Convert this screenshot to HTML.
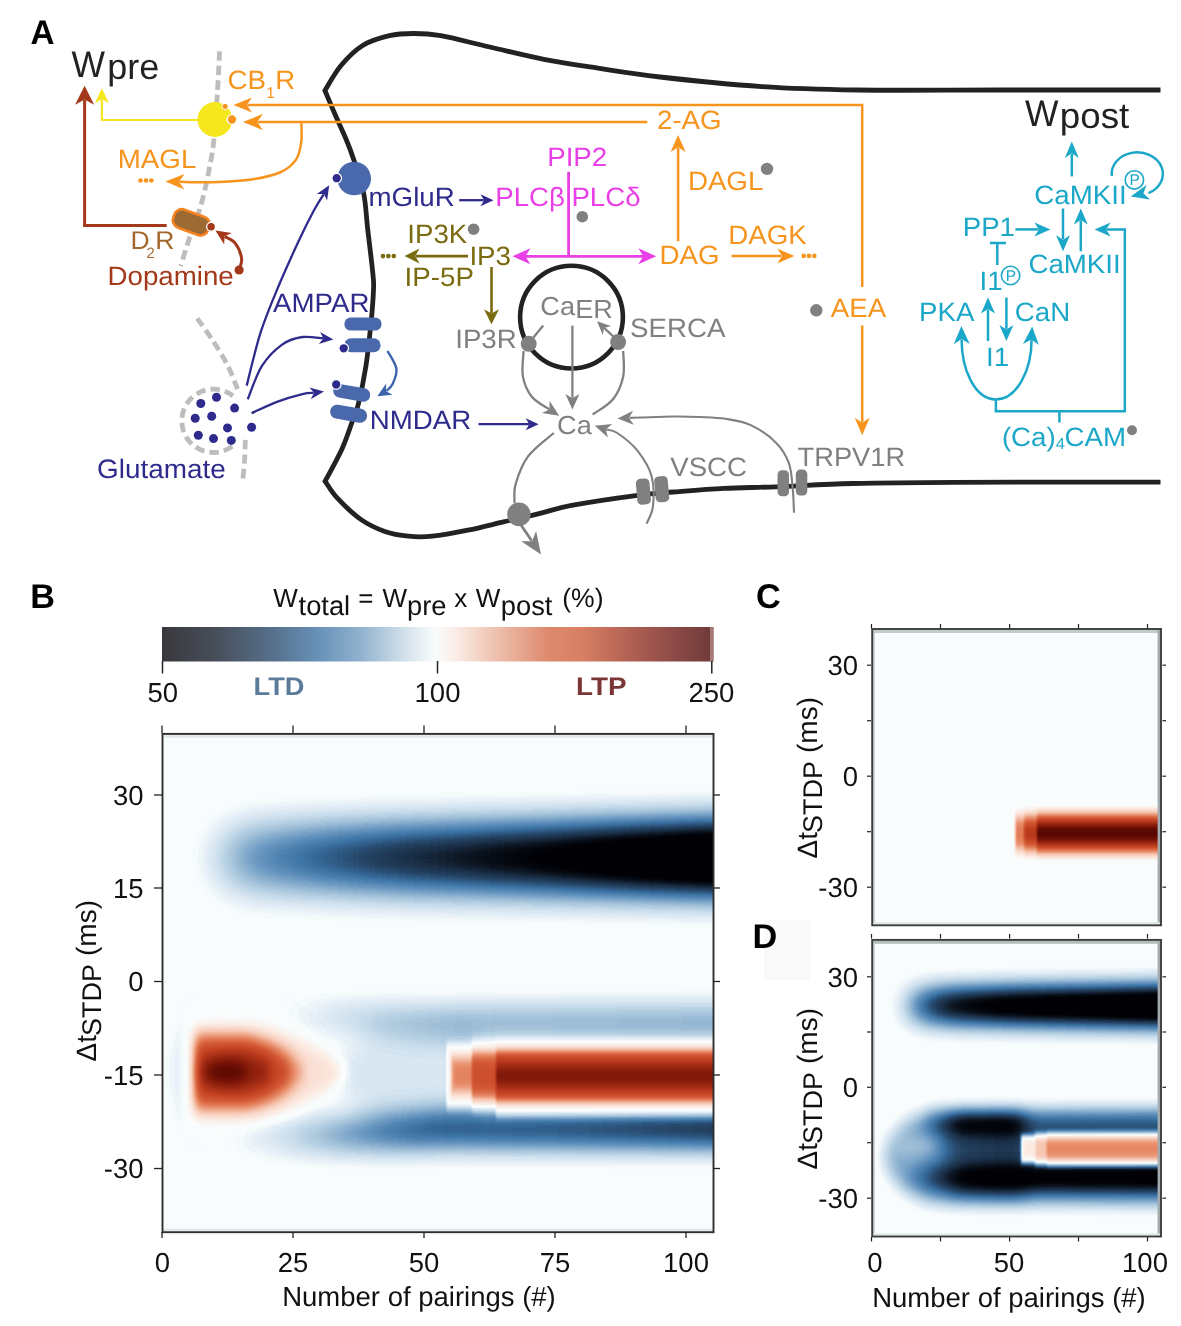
<!DOCTYPE html>
<html lang="en">
<head>
<meta charset="utf-8">
<title>Figure: STDP signalling model and plasticity maps</title>
<style>
html,body{margin:0;padding:0;background:#ffffff;}
body{width:1181px;height:1326px;overflow:hidden;}
svg{display:block;will-change:transform;transform:translateZ(0);}
text{font-family:"Liberation Sans","DejaVu Sans",sans-serif;text-rendering:geometricPrecision;}
.lbl{font-weight:bold;font-size:34.3px;fill:#000;}
.tk{font-size:27.5px;fill:#111;}
.ax{stroke:#333;stroke-width:1.6;fill:none;}
</style>
</head>
<body>
<svg width="1181" height="1326" viewBox="0 0 1181 1326">
<rect x="0" y="0" width="1181" height="1326" fill="#ffffff"/>
<defs>
<filter id="cmap" filterUnits="userSpaceOnUse" x="100" y="600" width="1081" height="700" color-interpolation-filters="sRGB">
<feComponentTransfer>
<feFuncR type="table" tableValues=".000 .000 .000 .000 .000 .000 .000 .000 .000 .000 .000 .000 .000 .000 .000 .000 .000 .000 .000 .000 .000 .000 .000 .000 .000 .000 .000 .000 .000 .000 .000 .000 .000 .000 .000 .000 .000 .000 .000 .000 .000 .000 .000 .000 .000 .000 .000 .000 .000 .000 .000 .000 .000 .000 .000 .000 .000 .000 .000 .001 .005 .009 .013 .017 .021 .028 .035 .042 .049 .056 .066 .075 .084 .093 .102 .108 .115 .121 .127 .133 .139 .147 .155 .163 .171 .180 .188 .196 .204 .215 .227 .238 .250 .266 .281 .296 .313 .333 .353 .372 .392 .412 .431 .455 .480 .504 .528 .552 .576 .600 .623 .644 .665 .686 .707 .728 .749 .770 .790 .810 .830 .849 .869 .889 .911 .937 .964 .976 .976 .976 .978 .980 .982 .984 .986 .988 .987 .985 .983 .981 .979 .977 .976 .974 .972 .970 .968 .966 .964 .961 .957 .954 .950 .946 .943 .939 .936 .932 .928 .925 .921 .918 .914 .911 .906 .901 .897 .892 .888 .883 .878 .874 .869 .865 .860 .855 .851 .846 .842 .837 .832 .828 .823 .818 .814 .809 .805 .800 .795 .791 .786 .782 .777 .772 .767 .761 .754 .747 .741 .734 .727 .721 .714 .707 .701 .694 .687 .681 .674 .667 .659 .651 .643 .635 .626 .618 .610 .602 .594 .585 .577 .569 .561 .553 .544 .536 .528 .519 .511 .502 .494 .485 .477 .468 .460 .452 .443 .435 .426 .418 .410 .403 .396 .389 .382 .375 .368 .361 .354 .347 .340 .334 .327 .320 .313 .306"/>
<feFuncG type="table" tableValues=".000 .000 .000 .000 .000 .000 .000 .000 .000 .000 .000 .000 .000 .000 .000 .000 .000 .000 .000 .000 .000 .000 .000 .000 .000 .000 .000 .000 .000 .000 .000 .000 .000 .000 .000 .000 .000 .000 .000 .000 .000 .000 .000 .000 .000 .000 .000 .000 .000 .000 .000 .000 .000 .000 .000 .000 .000 .000 .000 .002 .009 .016 .023 .030 .038 .050 .061 .073 .084 .097 .114 .130 .147 .164 .181 .193 .206 .218 .230 .243 .255 .271 .288 .305 .323 .340 .358 .375 .393 .411 .430 .448 .465 .478 .490 .502 .516 .531 .546 .562 .577 .592 .608 .625 .643 .660 .678 .695 .712 .730 .747 .762 .777 .793 .808 .823 .839 .854 .868 .881 .894 .907 .920 .932 .947 .965 .983 .992 .992 .992 .982 .971 .960 .949 .938 .927 .916 .905 .894 .883 .872 .861 .850 .839 .827 .816 .805 .794 .783 .767 .752 .737 .721 .706 .691 .675 .660 .644 .629 .614 .598 .583 .567 .552 .539 .527 .515 .502 .490 .478 .465 .453 .441 .428 .416 .404 .392 .379 .367 .358 .352 .345 .339 .333 .327 .321 .315 .308 .302 .296 .290 .284 .278 .272 .266 .261 .255 .250 .245 .240 .235 .230 .225 .220 .214 .209 .204 .199 .194 .189 .184 .179 .175 .170 .166 .161 .156 .152 .147 .143 .138 .133 .129 .124 .119 .115 .111 .107 .103 .099 .095 .091 .086 .082 .078 .074 .070 .066 .062 .058 .054 .052 .050 .047 .045 .043 .040 .038 .036 .033 .031 .029 .027 .024 .022 .020"/>
<feFuncB type="table" tableValues=".020 .020 .020 .020 .020 .020 .020 .020 .020 .020 .020 .020 .020 .020 .020 .020 .020 .020 .020 .020 .020 .020 .020 .020 .020 .020 .020 .020 .020 .020 .020 .020 .020 .020 .020 .020 .020 .020 .020 .020 .020 .020 .020 .020 .020 .020 .020 .020 .020 .020 .020 .020 .020 .020 .020 .020 .020 .020 .020 .023 .031 .039 .048 .056 .067 .084 .101 .118 .135 .153 .176 .200 .224 .248 .271 .289 .307 .325 .343 .361 .379 .401 .426 .450 .475 .499 .524 .549 .573 .594 .614 .635 .653 .663 .674 .684 .695 .706 .718 .730 .741 .753 .765 .775 .785 .795 .806 .816 .826 .836 .847 .856 .866 .876 .886 .895 .905 .915 .923 .931 .939 .947 .955 .963 .971 .980 .988 .992 .992 .992 .977 .961 .945 .929 .913 .897 .882 .867 .852 .837 .823 .808 .793 .778 .763 .749 .734 .719 .704 .684 .665 .645 .626 .607 .587 .568 .548 .529 .509 .490 .470 .451 .431 .412 .398 .386 .373 .361 .349 .336 .324 .312 .300 .287 .275 .263 .250 .238 .226 .217 .212 .207 .202 .197 .191 .186 .181 .176 .171 .166 .161 .156 .150 .145 .140 .137 .133 .130 .126 .123 .119 .115 .112 .108 .105 .101 .097 .094 .090 .087 .084 .081 .079 .076 .074 .071 .069 .066 .063 .061 .058 .056 .053 .051 .048 .046 .044 .042 .040 .038 .036 .034 .031 .029 .027 .025 .023 .021 .019 .017 .015 .014 .013 .012 .011 .010 .009 .008 .007 .006 .005 .004 .003 .002 .001 .000"/>
</feComponentTransfer>
</filter>
<filter id="bBtop" x="-10%" y="-10%" width="120%" height="120%" color-interpolation-filters="sRGB"><feGaussianBlur stdDeviation="16 19.5"/></filter>
<filter id="bBcore" x="-10%" y="-10%" width="120%" height="120%" color-interpolation-filters="sRGB"><feGaussianBlur stdDeviation="14 7"/></filter>
<filter id="bBband" x="-10%" y="-10%" width="120%" height="120%" color-interpolation-filters="sRGB"><feGaussianBlur stdDeviation="10 14"/></filter>
<filter id="bB" x="-10%" y="-10%" width="120%" height="120%" color-interpolation-filters="sRGB"><feGaussianBlur stdDeviation="5 9"/></filter>
<filter id="bBbar" x="-10%" y="-10%" width="120%" height="120%" color-interpolation-filters="sRGB"><feGaussianBlur stdDeviation="0.9 4.5"/></filter>
<filter id="bC" x="-10%" y="-10%" width="120%" height="120%" color-interpolation-filters="sRGB"><feGaussianBlur stdDeviation="0.8 5"/></filter>
<filter id="bDtop" x="-10%" y="-10%" width="120%" height="120%" color-interpolation-filters="sRGB"><feGaussianBlur stdDeviation="10 12"/></filter>
<filter id="bD" x="-10%" y="-10%" width="120%" height="120%" color-interpolation-filters="sRGB"><feGaussianBlur stdDeviation="7 8.7"/></filter>
<filter id="bDcore" x="-10%" y="-10%" width="120%" height="120%" color-interpolation-filters="sRGB"><feGaussianBlur stdDeviation="7 5"/></filter>
<filter id="bDbar" x="-10%" y="-10%" width="120%" height="120%" color-interpolation-filters="sRGB"><feGaussianBlur stdDeviation="0.8 2.6"/></filter>
<clipPath id="clipB"><rect x="163" y="734" width="550" height="497"/></clipPath>
<clipPath id="clipBt"><rect x="163" y="734" width="550" height="216"/></clipPath>
<clipPath id="clipBb"><rect x="163" y="950" width="550" height="281"/></clipPath>
<clipPath id="clipC"><rect x="873" y="630" width="287" height="294.5"/></clipPath>
<clipPath id="clipD"><rect x="873" y="940.5" width="287" height="295.3"/></clipPath>
<clipPath id="clipDt"><rect x="873" y="940" width="287" height="120"/></clipPath>
<clipPath id="clipDb"><rect x="873" y="1060" width="287" height="176"/></clipPath>
<linearGradient id="cbar" x1="0" y1="0" x2="1" y2="0">
<stop offset="0" stop-color="#38383c"/>
<stop offset="0.10" stop-color="#484f5b"/>
<stop offset="0.20" stop-color="#56708c"/>
<stop offset="0.28" stop-color="#6690b6"/>
<stop offset="0.36" stop-color="#90b2cf"/>
<stop offset="0.44" stop-color="#d2e1eb"/>
<stop offset="0.495" stop-color="#f8fcfc"/>
<stop offset="0.53" stop-color="#fbeee8"/>
<stop offset="0.60" stop-color="#efc4b2"/>
<stop offset="0.70" stop-color="#de8a6e"/>
<stop offset="0.76" stop-color="#d87f64"/>
<stop offset="0.85" stop-color="#b06052"/>
<stop offset="0.93" stop-color="#8c4a46"/>
<stop offset="1" stop-color="#6e3a3a"/>
</linearGradient>
</defs>
<!-- ================= PANEL A ================= -->
<g id="panelA">
<text class="lbl" x="30.6" y="44.3" textLength="24" lengthAdjust="spacingAndGlyphs">A</text>
<g fill="none" stroke="#bdbdbd" stroke-width="4.8" stroke-dasharray="9.5 5">
<path d="M219.5 51.4 C219.2 58 218.5 75.8 217.5 90.8 C216.5 105.8 215.2 128.1 213.7 141.6 C212.2 155.1 210.7 161.4 208.6 172 C206.5 182.6 204.2 194 201 205 C197.8 216 192.9 227.8 189.5 238 C186.1 248.2 182.1 261.3 180.6 266"/>
<path d="M197.2 318.3 C199.7 321.9 207.3 332.1 212.4 339.9 C217.5 347.7 223.4 357.1 227.6 365.3 C231.8 373.5 235.9 385.1 237.6 389"/>
<path d="M233 395.8 A31.7 31.7 0 1 0 233 445.8"/>
<path d="M245.3 439.9 C245.2 443.2 245 453.1 244.6 460 C244.2 466.9 243 477.5 242.7 481"/>
</g>
<path d="M1160.5 90 C1133.8 90 1050.6 90 1000 90 C949.4 90 896.7 90.6 857 90 C817.3 89.4 794.8 88.8 762 86.6 C729.2 84.4 687.3 80.1 660 77 C632.7 73.9 617.4 71.2 598 68.2 C578.6 65.2 561.9 62.8 543.9 59.3 C525.9 55.8 506.9 50.9 489.7 47 C472.5 43.1 453.5 38 440.9 35.7 C428.2 33.5 422.4 33.5 413.8 33.5 C405.2 33.5 398 33.7 389.4 35.7 C380.8 37.7 370.4 40.7 362.3 45.7 C354.2 50.8 346.8 58.5 340.6 66 C334.4 73.5 327.5 86.4 324.9 90.5 L324.9 90.5 C326.6 94.5 331.7 106.7 335.2 114.8 C338.7 122.9 342.8 131.3 346 139 C349.2 146.7 351.2 151.8 354.2 160.9 C357.1 170 361.4 181.9 363.7 193.4 C366 204.9 366.2 216.4 367.8 230 C369.4 243.6 372.1 265 373 275 C373.9 285 373.8 282 373.5 290 C373.2 298 372.3 310.3 371 323 C369.7 335.7 368 352.6 365.9 366.2 C363.8 379.8 360.5 395.3 358.3 404.3 C356.1 413.3 355.5 412.6 352.8 420 C350.1 427.4 346.8 438.2 342.2 448.4 C337.6 458.6 328 475.7 325.1 481.2 L325.1 481.2 C327.2 484 331.4 491.8 337.4 498.2 C343.4 504.6 353.2 514.1 361.1 519.6 C369 525.1 376.9 528.6 384.8 531.4 C392.7 534.2 400.6 535.4 408.5 536.2 C416.4 537 422.3 537.2 432.2 536.2 C442.1 535.2 455.9 532.6 467.8 530.2 C479.7 527.8 491.5 524.7 503.4 521.9 C515.3 519.1 527.6 516.4 539 513.6 C550.4 510.9 555.2 508.4 571.6 505.4 C588 502.3 620.7 497.5 637.6 495.3 C654.5 493.1 658.8 493.1 673.2 492 C687.6 490.9 706.8 489.3 724 488.4 C741.2 487.5 754.8 487.6 776.2 486.8 C797.6 486 822.8 484.2 852.4 483.5 C882 482.8 902.6 482.5 954 482.3 C1005.4 482.1 1126.1 482.2 1160.5 482.2" fill="none" stroke="#222222" stroke-width="4.8" stroke-linejoin="miter"/>
<text x="71.5" y="76.6" font-size="37" fill="#222222" textLength="33.5" lengthAdjust="spacingAndGlyphs">W</text>
<text x="107.2" y="79.4" font-size="36" fill="#222222" textLength="52" lengthAdjust="spacingAndGlyphs">pre</text>
<polyline points="166.7,225.6 84.6,225.6 84.6,100" fill="none" stroke="#a3381a" stroke-width="3" stroke-linejoin="miter"/>
<polygon points="84.6,85.7 94.1,104.7 84.6,99.4 75.1,104.7" fill="#a3381a"/>
<polyline points="199,120 101.9,120 101.9,99.5" fill="none" stroke="#f5e61d" stroke-width="2.2" stroke-linejoin="miter"/>
<polygon points="101.9,88.3 108.9,103.3 101.9,99.1 94.9,103.3" fill="#f5e61d"/>
<polyline points="862.2,287 862.2,105 247.4,105" fill="none" stroke="#f7941d" stroke-width="2.5" stroke-linejoin="miter"/>
<polygon points="233.5,105 252,97.4 246.8,105 252,112.6" fill="#f7941d"/>
<polyline points="647.3,122 257.9,122" fill="none" stroke="#f7941d" stroke-width="2.5" stroke-linejoin="miter"/>
<polygon points="242.9,122 262.9,113.8 257.3,122 262.9,130.2" fill="#f7941d"/>
<path d="M301.3 121.6 C301.3 124.9 302.2 135.3 301.3 141.6 C300.4 147.9 299.6 154.3 296.2 159.4 C292.8 164.5 288.2 168.7 281 172 C273.8 175.3 264.4 177.5 253 179.2 C241.6 180.9 224.6 181.8 212.4 182.2 C200.2 182.6 185.1 181.8 179.6 181.7" fill="none" stroke="#f7941d" stroke-width="2.5"/>
<polygon points="165.4,181.5 184.5,174 179.1,181.7 184.3,189.6" fill="#f7941d"/>
<circle cx="214.9" cy="119.5" r="17.4" fill="#f5e61d"/>
<circle cx="225.1" cy="106.5" r="3.1" fill="#f7941d" stroke="#fff" stroke-width="1"/>
<circle cx="232" cy="119.5" r="4.8" fill="#f7941d" stroke="#fff" stroke-width="1.3"/>
<text x="227.6" y="88.8" font-size="26.5" fill="#f7941d" textLength="38.5" lengthAdjust="spacingAndGlyphs">CB</text>
<text x="266.3" y="98" font-size="15.5" fill="#f7941d" textLength="8.6" lengthAdjust="spacingAndGlyphs">1</text>
<text x="275.2" y="88.8" font-size="26.5" fill="#f7941d" textLength="20" lengthAdjust="spacingAndGlyphs">R</text>
<text x="117.8" y="168.3" font-size="26.5" fill="#f7941d" textLength="78.5" lengthAdjust="spacingAndGlyphs">MAGL</text>
<circle cx="140.5" cy="180.5" r="2.3" fill="#f7941d"/>
<circle cx="146" cy="180.5" r="2.3" fill="#f7941d"/>
<circle cx="151.4" cy="180.5" r="2.3" fill="#f7941d"/>
<rect x="-18.6" y="-9.6" width="37.2" height="19.2" rx="8" transform="translate(191.3,222.3) rotate(20)" fill="#9c6a32" stroke="#f58220" stroke-width="2.6"/>
<circle cx="211.1" cy="226.8" r="4.4" fill="#a3381a" stroke="#fff" stroke-width="1.3"/>
<text x="130.5" y="248.9" font-size="25.5" fill="#a3672e" textLength="19.2" lengthAdjust="spacingAndGlyphs">D</text>
<text x="146.6" y="258" font-size="15" fill="#a3672e" textLength="8.3" lengthAdjust="spacingAndGlyphs">2</text>
<text x="155.3" y="248.9" font-size="25.5" fill="#a3672e" textLength="19.2" lengthAdjust="spacingAndGlyphs">R</text>
<text x="107.5" y="285.3" font-size="26.5" fill="#a3381a" textLength="126.2" lengthAdjust="spacingAndGlyphs">Dopamine</text>
<circle cx="239.1" cy="270" r="4.6" fill="#a3381a"/>
<path d="M239.1 270 C239.5 268.1 242.2 263.1 241.6 258.6 C241 254.2 238.1 246.9 235.3 243.3 C232.5 239.7 226.6 237.8 224.8 236.7" fill="none" stroke="#a3381a" stroke-width="3"/>
<polygon points="215.4,230.6 231.8,232.9 224.5,236.5 224.2,244.6" fill="#a3381a"/>
<path d="M246.7 385.6 C249 376.7 255.4 348.7 260.7 332.2 C266 315.7 272 301.7 278.4 286.5 C284.8 271.3 292.9 253.5 298.8 240.8 C304.7 228.1 309.8 218.1 314 210.3 C318.2 202.5 322.1 196.9 323.7 194.3" fill="none" stroke="#2e2b8c" stroke-width="2.3"/>
<polygon points="329.2,185.3 327.1,200.4 324,193.9 316.8,194.1" fill="#2e2b8c"/>
<path d="M247.8 399.2 C250.1 393.7 256.1 375.3 261.8 366.2 C267.5 357.1 275.3 349.5 282.1 344.6 C288.9 339.7 295.6 338 302.4 337 C309.2 336 319.5 338.2 323 338.4" fill="none" stroke="#2e2b8c" stroke-width="2.3"/>
<polygon points="333.4,339.5 318.8,344 323.4,338.4 320.1,332.1" fill="#2e2b8c"/>
<path d="M251.6 413.2 C255.8 411.3 268.5 405 277 401.8 C285.5 398.6 296.3 395.6 302.4 394.1 C308.5 392.6 311.7 393.1 313.6 392.9" fill="none" stroke="#2e2b8c" stroke-width="2.3"/>
<polygon points="324,391.6 310.8,399.3 314,392.8 309.4,387.4" fill="#2e2b8c"/>
<line x1="459.2" y1="200.2" x2="483.8" y2="200.2" stroke="#2e2b8c" stroke-width="2.3"/>
<polygon points="493.5,200.2 480.5,206.2 484.1,200.2 480.5,194.2" fill="#2e2b8c"/>
<line x1="478.5" y1="424.2" x2="529" y2="424.2" stroke="#2e2b8c" stroke-width="2.3"/>
<polygon points="538.7,424.2 525.7,430.2 529.3,424.2 525.7,418.2" fill="#2e2b8c"/>
<circle cx="354.2" cy="178.5" r="16.8" fill="#4a69ad"/>
<circle cx="336.7" cy="178.2" r="4.8" fill="#2e2b8c" stroke="#fff" stroke-width="1.3"/>
<text x="368.5" y="205.5" font-size="26.5" fill="#2e2b8c" textLength="86.2" lengthAdjust="spacingAndGlyphs">mGluR</text>
<text x="273" y="311.7" font-size="26.5" fill="#2e2b8c" textLength="96.4" lengthAdjust="spacingAndGlyphs">AMPAR</text>
<text x="369.8" y="429.4" font-size="26.5" fill="#2e2b8c" textLength="101.5" lengthAdjust="spacingAndGlyphs">NMDAR</text>
<text x="97" y="477.5" font-size="26.7" fill="#2e2b8c" textLength="128.7" lengthAdjust="spacingAndGlyphs">Glutamate</text>
<rect x="344.3" y="317.4" width="37.3" height="13.2" rx="6.6" fill="#4a69ad"/>
<rect x="344.3" y="338.3" width="36.3" height="13.9" rx="6.9" fill="#4a69ad"/>
<circle cx="343.7" cy="348.3" r="4.8" fill="#2e2b8c" stroke="#fff" stroke-width="1.3"/>
<rect x="-18.7" y="-6.8" width="37.4" height="13.6" rx="6.8" transform="translate(351.7,392.9) rotate(10)" fill="#4a69ad"/>
<rect x="-18.7" y="-7" width="37.4" height="14" rx="7" transform="translate(348.6,413.7) rotate(10)" fill="#4a69ad"/>
<circle cx="336.2" cy="384.5" r="4.8" fill="#2e2b8c" stroke="#fff" stroke-width="1.3"/>
<path d="M387.5 351 C389 353.9 395.5 363.2 396.4 368.7 C397.2 374.2 394.3 380.3 392.6 384 C390.9 387.7 387.4 389.8 386.4 390.9" fill="none" stroke="#3d63ad" stroke-width="2.4"/>
<polygon points="377.3,396.2 386.2,383.6 386,391.2 392.7,394.8" fill="#3d63ad"/>
<circle cx="216.5" cy="397.2" r="4.5" fill="#2e2b8c"/>
<circle cx="200.8" cy="403.5" r="4.5" fill="#2e2b8c"/>
<circle cx="234.6" cy="408.1" r="4.5" fill="#2e2b8c"/>
<circle cx="195.2" cy="418.3" r="4.5" fill="#2e2b8c"/>
<circle cx="211.7" cy="416.2" r="4.5" fill="#2e2b8c"/>
<circle cx="227.5" cy="427.9" r="4.5" fill="#2e2b8c"/>
<circle cx="198.3" cy="435.3" r="4.5" fill="#2e2b8c"/>
<circle cx="213.5" cy="438.6" r="4.5" fill="#2e2b8c"/>
<circle cx="231.3" cy="440.4" r="4.5" fill="#2e2b8c"/>
<circle cx="251.6" cy="427.2" r="4.5" fill="#2e2b8c"/>
<text x="547.2" y="165.6" font-size="26.5" fill="#e93fe6" textLength="60" lengthAdjust="spacingAndGlyphs">PIP2</text>
<text x="495.2" y="205.5" font-size="26.5" fill="#e93fe6" textLength="69.8" lengthAdjust="spacingAndGlyphs">PLCβ</text>
<text x="571.4" y="205.5" font-size="26.5" fill="#e93fe6" textLength="69.3" lengthAdjust="spacingAndGlyphs">PLCδ</text>
<line x1="568.6" y1="171.8" x2="568.6" y2="256.3" stroke="#e93fe6" stroke-width="2.8"/>
<line x1="524" y1="256.3" x2="645" y2="256.3" stroke="#e93fe6" stroke-width="2.8"/>
<polygon points="512.4,256.3 530.4,248.3 525.4,256.3 530.4,264.3" fill="#e93fe6"/>
<polygon points="656.3,256.3 638.3,264.3 643.3,256.3 638.3,248.3" fill="#e93fe6"/>
<circle cx="582.3" cy="216.7" r="5.8" fill="#808080"/>
<circle cx="473.6" cy="229.2" r="5.8" fill="#808080"/>
<circle cx="767" cy="168.9" r="6.2" fill="#808080"/>
<circle cx="816.3" cy="310.3" r="6.2" fill="#808080"/>
<circle cx="1132" cy="430.3" r="5" fill="#808080"/>
<text x="407.3" y="242.9" font-size="26.5" fill="#7a6a10" textLength="60" lengthAdjust="spacingAndGlyphs">IP3K</text>
<text x="469.4" y="264.5" font-size="26.5" fill="#7a6a10" textLength="41.6" lengthAdjust="spacingAndGlyphs">IP3</text>
<text x="404.6" y="286" font-size="26.5" fill="#7a6a10" textLength="69.3" lengthAdjust="spacingAndGlyphs">IP-5P</text>
<line x1="468" y1="256.1" x2="415.8" y2="256.1" stroke="#7a6a10" stroke-width="2.6"/>
<polygon points="404.5,256.1 419.5,248.6 415.3,256.1 419.5,263.6" fill="#7a6a10"/>
<circle cx="383" cy="256.1" r="2.3" fill="#7a6a10"/>
<circle cx="388.4" cy="256.1" r="2.3" fill="#7a6a10"/>
<circle cx="393.8" cy="256.1" r="2.3" fill="#7a6a10"/>
<line x1="491.5" y1="267" x2="491.5" y2="313.1" stroke="#7a6a10" stroke-width="2.6"/>
<polygon points="491.5,324.3 484,309.3 491.5,313.5 499,309.3" fill="#7a6a10"/>
<circle cx="571.5" cy="317.1" r="51.4" fill="none" stroke="#222222" stroke-width="4.6"/>
<text x="540.3" y="314.8" font-size="26" fill="#808080" textLength="34.7" lengthAdjust="spacingAndGlyphs">Ca</text>
<text x="575.2" y="317.8" font-size="26" fill="#808080" textLength="37.7" lengthAdjust="spacingAndGlyphs">ER</text>
<text x="455.2" y="347.9" font-size="26.5" fill="#808080" textLength="61.6" lengthAdjust="spacingAndGlyphs">IP3R</text>
<text x="630" y="337" font-size="26.5" fill="#808080" textLength="95.4" lengthAdjust="spacingAndGlyphs">SERCA</text>
<g fill="none" stroke="#808080" stroke-width="2.3">
<line x1="531.8" y1="339.5" x2="543.2" y2="325.6"/>
<path d="M592.7 414.5 C596.1 411.9 607.9 405.6 613 399.2 C618.1 392.8 621.5 384.4 623.2 376.4 C624.9 368.4 623.2 355.2 623.2 351"/>
<path d="M553.8 433 C549.6 436.8 534.8 447.4 528.4 455.9 C522 464.4 518 475.9 515.7 483.8 C513.4 491.7 514.7 499.8 514.5 503"/>
</g>
<line x1="616" y1="339" x2="604.4" y2="328.2" stroke="#808080" stroke-width="2.3"/>
<polygon points="597,321.3 611,326.1 604.1,327.9 602.8,334.9" fill="#808080"/>
<line x1="572.4" y1="325.6" x2="572.4" y2="397.8" stroke="#808080" stroke-width="2.3"/>
<polygon points="572.4,409.4 565.4,393.9 572.4,398.2 579.4,393.9" fill="#808080"/>
<path d="M523.6 351 C523.5 355.2 521.5 368.8 522.9 376.4 C524.3 384 527.4 391.2 531.8 396.7 C536.2 402.2 546.2 407.1 549.1 409.2" fill="none" stroke="#808080" stroke-width="2.3"/>
<polygon points="559.2,415.7 542,412.9 549.5,409.4 549.6,401.1" fill="#808080"/>
<circle cx="528.7" cy="343.8" r="8" fill="#808080"/>
<circle cx="618.1" cy="342.1" r="8" fill="#808080"/>
<text x="557.1" y="434.3" font-size="26" fill="#808080" textLength="34.7" lengthAdjust="spacingAndGlyphs">Ca</text>
<path d="M794 512.7 C793.8 508.7 793.6 496.9 792.7 488.6 C791.9 480.4 791.6 470.8 788.9 463.2 C786.1 455.6 782.6 449.2 776.2 442.9 C769.9 436.5 759.3 429.1 750.8 425.1 C742.3 421.1 733.9 420.2 725.4 418.8 C716.9 417.4 708.7 417.4 700 417 C691.3 416.6 683.2 416.4 673.2 416.5 C663.2 416.6 647.3 417.3 640 417.5 C632.7 417.7 631.2 417.8 629.5 417.9" fill="none" stroke="#808080" stroke-width="2.1"/>
<polygon points="617.5,418.5 633.1,410.7 629,417.9 633.8,424.7" fill="#808080"/>
<path d="M646.5 523.7 C647.6 520.9 652 514.6 652.9 506.7 C653.8 498.8 654.1 485.5 651.6 476.2 C649.1 466.9 643.3 458 637.6 450.8 C631.9 443.6 622.5 436.5 617.3 433 C612.1 429.5 608.1 430.1 606.2 429.5" fill="none" stroke="#808080" stroke-width="2.1"/>
<polygon points="594.8,425.8 612.2,424.1 605.8,429.4 607.9,437.4" fill="#808080"/>
<circle cx="518.9" cy="514.4" r="11.8" fill="#808080"/>
<line x1="521" y1="525" x2="531.7" y2="540.8" stroke="#808080" stroke-width="2.8"/>
<polygon points="541,554.4 521.2,541.3 532.1,541.3 536.1,531.1" fill="#808080"/>
<rect x="-6.8" y="-13" width="13.6" height="26" rx="4.5" transform="translate(643.4,491.6) rotate(-5)" fill="#808080"/>
<rect x="-6.8" y="-13" width="13.6" height="26" rx="4.5" transform="translate(661.7,489.2) rotate(-5)" fill="#808080"/>
<text x="670.2" y="476.2" font-size="26.5" fill="#808080" textLength="76.9" lengthAdjust="spacingAndGlyphs">VSCC</text>
<rect x="777.5" y="470.2" width="11.5" height="26" rx="4.5" fill="#808080"/>
<rect x="795.8" y="469.6" width="11.5" height="26" rx="4.5" fill="#808080"/>
<text x="797.5" y="466.2" font-size="26.5" fill="#808080" textLength="107.7" lengthAdjust="spacingAndGlyphs">TRPV1R</text>
<text x="657" y="129.3" font-size="26.5" fill="#f7941d" textLength="64.6" lengthAdjust="spacingAndGlyphs">2-AG</text>
<line x1="678.1" y1="241.2" x2="678.1" y2="147.8" stroke="#f7941d" stroke-width="2.5"/>
<polygon points="678.1,135 685.6,152 678.1,147.2 670.6,152" fill="#f7941d"/>
<text x="687.9" y="189.5" font-size="26.5" fill="#f7941d" textLength="75.4" lengthAdjust="spacingAndGlyphs">DAGL</text>
<text x="728.2" y="244.1" font-size="26.5" fill="#f7941d" textLength="78.5" lengthAdjust="spacingAndGlyphs">DAGK</text>
<text x="659.5" y="263.7" font-size="26.5" fill="#f7941d" textLength="60" lengthAdjust="spacingAndGlyphs">DAG</text>
<line x1="731.4" y1="255.9" x2="781.5" y2="255.9" stroke="#f7941d" stroke-width="2.5"/>
<polygon points="794.3,255.9 777.3,263.4 782.1,255.9 777.3,248.4" fill="#f7941d"/>
<circle cx="803.7" cy="255.9" r="2.3" fill="#f7941d"/>
<circle cx="809" cy="255.9" r="2.3" fill="#f7941d"/>
<circle cx="814.3" cy="255.9" r="2.3" fill="#f7941d"/>
<text x="830.8" y="317.2" font-size="26.5" fill="#f7941d" textLength="55.4" lengthAdjust="spacingAndGlyphs">AEA</text>
<line x1="862.2" y1="325.5" x2="862.2" y2="422.2" stroke="#f7941d" stroke-width="2.5"/>
<polygon points="862.2,435.3 854.7,417.8 862.2,422.7 869.7,417.8" fill="#f7941d"/>
<text x="1025" y="125.6" font-size="37" fill="#222222" textLength="33.5" lengthAdjust="spacingAndGlyphs">W</text>
<text x="1059.8" y="128.2" font-size="36" fill="#222222" textLength="69.4" lengthAdjust="spacingAndGlyphs">post</text>
<line x1="1071.8" y1="176.4" x2="1071.8" y2="153.8" stroke="#1ba7c8" stroke-width="2.5"/>
<polygon points="1071.8,141.4 1078.8,157.9 1071.8,153.3 1064.8,157.9" fill="#1ba7c8"/>
<text x="1034.3" y="204.2" font-size="26.5" fill="#1ba7c8" textLength="92.3" lengthAdjust="spacingAndGlyphs">CaMKII</text>
<text x="1028.4" y="273" font-size="26.5" fill="#1ba7c8" textLength="92.3" lengthAdjust="spacingAndGlyphs">CaMKII</text>
<circle cx="1134.4" cy="179.9" r="9.2" fill="none" stroke="#1ba7c8" stroke-width="1.6"/>
<text x="1134.7" y="185.4" font-size="15.5" fill="#1ba7c8" text-anchor="middle">P</text>
<circle cx="1010.6" cy="275.5" r="9.2" fill="none" stroke="#1ba7c8" stroke-width="1.6"/>
<text x="1010.9" y="281" font-size="15.5" fill="#1ba7c8" text-anchor="middle">P</text>
<path d="M1111.8 176 A25.6 21.5 0 1 1 1148.5 193.2" fill="none" stroke="#1ba7c8" stroke-width="2.5"/>
<polygon points="1130.8,196.6 1146.5,185 1143.4,193.5 1150.1,199.5" fill="#1ba7c8"/>
<text x="962.7" y="235.8" font-size="26.5" fill="#1ba7c8" textLength="52.3" lengthAdjust="spacingAndGlyphs">PP1</text>
<line x1="1015.4" y1="229.4" x2="1038.4" y2="229.4" stroke="#1ba7c8" stroke-width="2.5"/>
<polygon points="1050.4,229.4 1034.4,236.4 1038.9,229.4 1034.4,222.4" fill="#1ba7c8"/>
<line x1="1063" y1="208.5" x2="1063" y2="239.3" stroke="#1ba7c8" stroke-width="2.5"/>
<polygon points="1063,251.3 1056,235.3 1063,239.8 1070,235.3" fill="#1ba7c8"/>
<line x1="1080.8" y1="251.3" x2="1080.8" y2="220.5" stroke="#1ba7c8" stroke-width="2.5"/>
<polygon points="1080.8,208.5 1087.8,224.5 1080.8,220 1073.8,224.5" fill="#1ba7c8"/>
<polyline points="995.9,399.4 995.9,411.3 1124.8,411.3 1124.8,229.4 1106.6,229.4" fill="none" stroke="#1ba7c8" stroke-width="2.5" stroke-linejoin="miter"/>
<polygon points="1094.6,229.4 1110.6,222.4 1106.1,229.4 1110.6,236.4" fill="#1ba7c8"/>
<path d="M997.3 243 L997.3 265 M990 243 L1006 243 M1059.4 411.3 L1059.4 422.5" fill="none" stroke="#1ba7c8" stroke-width="2.5"/>
<text x="979.6" y="290" font-size="26.5" fill="#1ba7c8" textLength="23.1" lengthAdjust="spacingAndGlyphs">I1</text>
<text x="919" y="320.8" font-size="26.5" fill="#1ba7c8" textLength="55.4" lengthAdjust="spacingAndGlyphs">PKA</text>
<text x="1014.8" y="320.8" font-size="26.5" fill="#1ba7c8" textLength="55.4" lengthAdjust="spacingAndGlyphs">CaN</text>
<line x1="988" y1="340.9" x2="988" y2="309.6" stroke="#1ba7c8" stroke-width="2.5"/>
<polygon points="988,297.6 995,313.6 988,309.1 981,313.6" fill="#1ba7c8"/>
<line x1="1006.4" y1="297.6" x2="1006.4" y2="328.9" stroke="#1ba7c8" stroke-width="2.5"/>
<polygon points="1006.4,340.9 999.4,324.9 1006.4,329.4 1013.4,324.9" fill="#1ba7c8"/>
<text x="986.1" y="366.1" font-size="26.5" fill="#1ba7c8" textLength="23.1" lengthAdjust="spacingAndGlyphs">I1</text>
<path d="M961.6 339.5 C961.6 370 975 399.4 995.9 399.4 C1017 399.4 1031.6 370 1031.6 339.5" fill="none" stroke="#1ba7c8" stroke-width="2.5"/>
<polygon points="961.4,326.1 969.7,344 961.6,339.1 953.7,344.2" fill="#1ba7c8"/>
<polygon points="1032.2,326.6 1038.9,345.1 1031.3,339.5 1023,344" fill="#1ba7c8"/>
<text x="1001.9" y="445.6" font-size="26.5" fill="#1ba7c8" textLength="53.8" lengthAdjust="spacingAndGlyphs">(Ca)</text>
<text x="1055.8" y="449" font-size="16" fill="#1ba7c8" textLength="9.3" lengthAdjust="spacingAndGlyphs">4</text>
<text x="1064.5" y="445.6" font-size="26.5" fill="#1ba7c8" textLength="61.5" lengthAdjust="spacingAndGlyphs">CAM</text>
</g>
<!-- ================= PANEL B ================= -->
<g id="panelB">
<text class="lbl" x="30.3" y="608">B</text>
<!-- title -->
<g fill="#111">
<text x="273.3" y="607.3" font-size="26">W</text>
<text x="298.6" y="614.8" font-size="27.3">total</text>
<text x="358.2" y="607.3" font-size="26">=</text>
<text x="382.4" y="607.3" font-size="26">W</text>
<text x="407" y="614.8" font-size="27.3">pre</text>
<text x="454.3" y="607.3" font-size="26">x</text>
<text x="475.8" y="607.3" font-size="26">W</text>
<text x="500.8" y="614.8" font-size="27.3">post</text>
<text x="562.3" y="607.3" font-size="26.5">(%)</text>
</g>
<!-- colour bar -->
<rect x="162" y="627" width="551.5" height="34.5" fill="url(#cbar)"/>
<rect x="710" y="627" width="3.5" height="34.5" fill="#b98f8f" opacity="0.75"/>
<g stroke="#222" stroke-width="1.5">
<line x1="162.5" y1="661" x2="162.5" y2="673.5"/>
<line x1="437.5" y1="661" x2="437.5" y2="673.5"/>
<line x1="711.8" y1="661" x2="711.8" y2="673.5"/>
</g>
<text class="tk" x="147.5" y="702">50</text>
<text class="tk" x="437.5" y="702" text-anchor="middle">100</text>
<text class="tk" x="688.5" y="702">250</text>
<text x="253.5" y="694.5" font-size="25.5" font-weight="bold" fill="#5b7b9b" textLength="51" lengthAdjust="spacingAndGlyphs">LTD</text>
<text x="576" y="695" font-size="25.5" font-weight="bold" fill="#7a3636" textLength="50.5" lengthAdjust="spacingAndGlyphs">LTP</text>

<!-- heat map -->
<g clip-path="url(#clipB)"><g filter="url(#cmap)">
<g clip-path="url(#clipBt)">
<g filter="url(#bBtop)">
<rect x="20" y="600" width="840" height="500" fill="#808080"/>
<linearGradient id="gB1" gradientUnits="userSpaceOnUse" x1="200" y1="0" x2="720" y2="0">
<stop offset="0.000" stop-color="#7b7b7b"/>
<stop offset="0.029" stop-color="#757575"/>
<stop offset="0.096" stop-color="#626262"/>
<stop offset="0.192" stop-color="#565656"/>
<stop offset="0.288" stop-color="#4c4c4c"/>
<stop offset="0.385" stop-color="#434343"/>
<stop offset="0.481" stop-color="#3d3d3d"/>
<stop offset="0.538" stop-color="#393939"/>
<stop offset="0.673" stop-color="#2f2f2f"/>
<stop offset="0.987" stop-color="#0f0f0f"/>
</linearGradient>
<path d="M860 829 L236 830 Q204 840 204 858 Q204 876 236 886 L860 887 Z" fill="url(#gB1)"/>
</g>
</g>
<g clip-path="url(#clipBb)">
<g filter="url(#bBband)">
<rect x="20" y="860" width="840" height="460" fill="#808080"/>
<!-- broad faint LTD region between the bands -->
<path d="M480 1030 L380 1030 Q340 1050 336 1073 Q340 1100 380 1118 L480 1118 Z" fill="#797979"/>
<!-- lower LTD band -->
<linearGradient id="gB2" gradientUnits="userSpaceOnUse" x1="215" y1="0" x2="720" y2="0">
<stop offset="0.000" stop-color="#7a7a7a"/>
<stop offset="0.129" stop-color="#6c6c6c"/>
<stop offset="0.267" stop-color="#5a5a5a"/>
<stop offset="0.426" stop-color="#484848"/>
<stop offset="0.703" stop-color="#424242"/>
<stop offset="0.986" stop-color="#373737"/>
</linearGradient>
<path d="M860 1116 L440 1116 Q330 1120 215 1142 Q340 1150 440 1143 L860 1142 Z" fill="url(#gB2)"/>
<!-- upper faint LTD band -->
<linearGradient id="gB3" gradientUnits="userSpaceOnUse" x1="265" y1="0" x2="720" y2="0">
<stop offset="0.000" stop-color="#7b7b7b"/>
<stop offset="0.165" stop-color="#6b6b6b"/>
<stop offset="0.429" stop-color="#626262"/>
<stop offset="0.985" stop-color="#5e5e5e"/>
</linearGradient>
<path d="M860 1012 L440 1012 Q340 1010 265 1012 Q330 1026 440 1034 L860 1034 Z" fill="url(#gB3)"/>
<!-- faint LTD wrap at left -->
<path d="M200 1012 Q160 1072 200 1134" fill="none" stroke="#787878" stroke-width="14"/>
</g>
<g filter="url(#bB)">
<!-- white halo + early LTP blob -->
<path d="M182 1004 L266 1002 L352 1072 L300 1110 L210 1138 L182 1138 Z" fill="#808080"/>
<path d="M193 1034 Q193 1028 200 1028 L250 1028 Q310 1036 346 1072 Q310 1108 250 1116 L200 1116 Q193 1116 193 1110 Z" fill="#8b8b8b"/>
<path d="M194 1038 Q194 1034 200 1034 L246 1034 Q292 1042 306 1072 Q292 1102 246 1110 L200 1110 Q194 1110 194 1106 Z" fill="#a2a2a2"/>
<path d="M196 1044 Q196 1040 202 1040 L244 1040 Q282 1048 292 1072 Q282 1096 244 1104 L202 1104 Q196 1104 196 1100 Z" fill="#c0c0c0"/>
<ellipse cx="234" cy="1072" rx="38" ry="18" fill="#e0e0e0"/>
<ellipse cx="226" cy="1072" rx="22" ry="9" fill="#ffffff"/>
</g>
<!-- late LTP bar -->
<g filter="url(#bBbar)">
<rect x="446.5" y="1044" width="26" height="63" fill="#838383"/>
<rect x="472" y="1040" width="25" height="70" fill="#838383"/>
<rect x="496" y="1039" width="240" height="76" fill="#838383"/>
<rect x="451" y="1056" width="21.5" height="38" fill="#9c9c9c"/>
<rect x="454" y="1064" width="18.5" height="22" fill="#a6a6a6"/>
<rect x="472" y="1052" width="24.5" height="47" fill="#acacac"/>
<rect x="472" y="1062" width="24.5" height="27" fill="#bababa"/>
<rect x="496" y="1051" width="240" height="50" fill="#bcbcbc"/>
<rect x="496" y="1060" width="240" height="32" fill="#d0d0d0"/>
<rect x="496" y="1068" width="240" height="16" fill="#e6e6e6"/>
</g>
</g>
</g></g>
<!-- frame -->
<path d="M163.5 736.3 H712.5" stroke="#e1e8ea" stroke-width="3" fill="none"/><path d="M163.5 1230 H712.5" stroke="#e1e8ea" stroke-width="2.6" fill="none"/>
<rect x="162.5" y="733.9" width="551" height="498.3" fill="none" stroke="#2e2e2e" stroke-width="1.9"/>
<g stroke="#222" stroke-width="1.3">
<!-- top ticks -->
<line x1="162" y1="733" x2="162" y2="725.5"/><line x1="293" y1="733" x2="293" y2="725.5"/><line x1="424" y1="733" x2="424" y2="725.5"/><line x1="555" y1="733" x2="555" y2="725.5"/><line x1="686" y1="733" x2="686" y2="725.5"/>
<!-- bottom ticks -->
<line x1="162" y1="1232" x2="162" y2="1238"/><line x1="293" y1="1232" x2="293" y2="1238"/><line x1="424" y1="1232" x2="424" y2="1238"/><line x1="555" y1="1232" x2="555" y2="1238"/><line x1="686" y1="1232" x2="686" y2="1238"/>
<!-- left ticks -->
<line x1="162" y1="795" x2="154" y2="795"/><line x1="162" y1="888" x2="154" y2="888"/><line x1="162" y1="981.5" x2="154" y2="981.5"/><line x1="162" y1="1075" x2="154" y2="1075"/><line x1="162" y1="1168.5" x2="154" y2="1168.5"/>
<!-- right ticks -->
<line x1="714" y1="795" x2="720" y2="795"/><line x1="714" y1="888" x2="720" y2="888"/><line x1="714" y1="981.5" x2="720" y2="981.5"/><line x1="714" y1="1075" x2="720" y2="1075"/><line x1="714" y1="1168.5" x2="720" y2="1168.5"/>
</g>
<g class="tk" text-anchor="end">
<text x="143.5" y="804.5">30</text>
<text x="143.5" y="897.5">15</text>
<text x="143.5" y="991">0</text>
<text x="143.5" y="1084.5">-15</text>
<text x="143.5" y="1178">-30</text>
</g>
<g class="tk" text-anchor="middle">
<text x="162.5" y="1271.5">0</text>
<text x="293" y="1271.5">25</text>
<text x="424" y="1271.5">50</text>
<text x="555" y="1271.5">75</text>
<text x="686" y="1271.5">100</text>
<text x="419" y="1305.5">Number of pairings (#)</text>
</g>
<g transform="translate(96,980) rotate(-90)" fill="#111">
<text x="-81.5" y="0" font-size="28">Δt</text>
<text x="-56" y="5" font-size="27">STDP</text>
<text x="24" y="0" font-size="28">(ms)</text>
</g>
</g>
<!-- ================= PANEL C ================= -->
<g id="panelC">
<text class="lbl" x="756" y="608">C</text>
<g clip-path="url(#clipC)"><g filter="url(#cmap)">
<rect x="872" y="629" width="290" height="296" fill="#808080"/>
<g filter="url(#bC)">
<rect x="1015" y="813.3" width="10" height="40" fill="#919191"/>
<rect x="1015.5" y="820.3" width="9.5" height="26" fill="#a8a8a8"/>
<rect x="1024.3" y="812.3" width="13.5" height="42" fill="#969696"/>
<rect x="1024.3" y="818.3" width="13.5" height="30" fill="#b2b2b2"/>
<rect x="1024.3" y="825.3" width="13.5" height="16" fill="#cccccc"/>
<rect x="1037" y="811.3" width="140" height="44" fill="#999999"/>
<rect x="1037" y="816.3" width="140" height="34" fill="#b8b8b8"/>
<rect x="1037" y="821.3" width="140" height="24" fill="#dbdbdb"/>
<rect x="1037" y="826.8" width="140" height="13" fill="#ffffff"/>
</g>
</g></g>
<path d="M873.1 631.4 H1160" stroke="#c3cacc" stroke-width="3" fill="none"/><path d="M873.9 630 V924.3" stroke="#bcc3c5" stroke-width="1.5" fill="none"/><path d="M1158.8 630 V924.3" stroke="#a3abae" stroke-width="2.4" fill="none"/><path d="M873.1 923.3 H1160" stroke="#e0e6e8" stroke-width="2" fill="none"/>
<rect x="872.2" y="629" width="288.8" height="296.3" fill="none" stroke="#3c3c3c" stroke-width="1.9"/>
<g stroke="#222" stroke-width="1.2">
<line x1="871.5" y1="628.5" x2="871.5" y2="624"/><line x1="940.5" y1="628.5" x2="940.5" y2="624"/><line x1="1009.6" y1="628.5" x2="1009.6" y2="624"/><line x1="1078.5" y1="628.5" x2="1078.5" y2="624"/><line x1="1147.5" y1="628.5" x2="1147.5" y2="624"/>
<line x1="871" y1="665.2" x2="867" y2="665.2"/><line x1="871" y1="720.7" x2="867" y2="720.7"/><line x1="871" y1="776.2" x2="867" y2="776.2"/><line x1="871" y1="831.7" x2="867" y2="831.7"/><line x1="871" y1="887.2" x2="867" y2="887.2"/>
<line x1="1162.5" y1="665.2" x2="1166" y2="665.2"/><line x1="1162.5" y1="720.7" x2="1166" y2="720.7"/><line x1="1162.5" y1="776.2" x2="1166" y2="776.2"/><line x1="1162.5" y1="831.7" x2="1166" y2="831.7"/><line x1="1162.5" y1="887.2" x2="1166" y2="887.2"/>
</g>
<g class="tk" text-anchor="end">
<text x="858" y="675">30</text>
<text x="858" y="786">0</text>
<text x="858" y="897">-30</text>
</g>
<g transform="translate(816.5,777) rotate(-90)" fill="#111">
<text x="-81.5" y="0" font-size="28">Δt</text>
<text x="-56" y="5" font-size="27">STDP</text>
<text x="24" y="0" font-size="28">(ms)</text>
</g>
</g>

<!-- ================= PANEL D ================= -->
<g id="panelD">
<rect x="764" y="920" width="46" height="60" fill="#f9f9f9"/>
<text class="lbl" x="752.5" y="948.2">D</text>
<g clip-path="url(#clipD)"><g filter="url(#cmap)">
<g clip-path="url(#clipDt)">
<g filter="url(#bDtop)">
<rect x="800" y="880" width="440" height="260" fill="#808080"/>
<linearGradient id="gD1" gradientUnits="userSpaceOnUse" x1="895" y1="0" x2="1162" y2="0">
<stop offset="0.000" stop-color="#797979"/>
<stop offset="0.037" stop-color="#707070"/>
<stop offset="0.086" stop-color="#565656"/>
<stop offset="0.150" stop-color="#3f3f3f"/>
<stop offset="0.206" stop-color="#323232"/>
<stop offset="0.393" stop-color="#232323"/>
<stop offset="1.000" stop-color="#131313"/>
</linearGradient>
<path d="M1240 990 L915 992 Q899 998 899 1006 Q899 1014 915 1020 L1240 1022 Z" fill="url(#gD1)"/>
</g>
</g>
<g clip-path="url(#clipDb)">
<g filter="url(#bD)">
<rect x="800" y="1000" width="440" height="300" fill="#808080"/>
<linearGradient id="gD0" gradientUnits="userSpaceOnUse" x1="884" y1="0" x2="1162" y2="0">
<stop offset="0.000" stop-color="#6c6c6c"/>
<stop offset="0.112" stop-color="#676767"/>
<stop offset="0.201" stop-color="#5d5d5d"/>
<stop offset="0.273" stop-color="#505050"/>
<stop offset="0.468" stop-color="#4c4c4c"/>
<stop offset="0.547" stop-color="#595959"/>
<stop offset="1.000" stop-color="#595959"/>
</linearGradient>
<path d="M1240 1112 L930 1113 Q888 1124 884 1156 Q890 1192 930 1201 L1240 1203 Z" fill="url(#gD0)"/>
<ellipse cx="916" cy="1146" rx="24" ry="9" fill="#717171"/>
<linearGradient id="gD2" gradientUnits="userSpaceOnUse" x1="925" y1="0" x2="1162" y2="0">
<stop offset="0.000" stop-color="#5e5e5e"/>
<stop offset="0.084" stop-color="#454545"/>
<stop offset="0.148" stop-color="#303030"/>
<stop offset="0.376" stop-color="#2f2f2f"/>
<stop offset="0.451" stop-color="#4f4f4f"/>
<stop offset="1.000" stop-color="#505050"/>
</linearGradient>
<path d="M1240 1112 L925 1114 L925 1131 L1240 1131 Z" fill="url(#gD2)"/>
<linearGradient id="gD3" gradientUnits="userSpaceOnUse" x1="900" y1="0" x2="1162" y2="0">
<stop offset="0.000" stop-color="#666666"/>
<stop offset="0.095" stop-color="#525252"/>
<stop offset="0.172" stop-color="#3d3d3d"/>
<stop offset="0.248" stop-color="#2e2e2e"/>
<stop offset="0.324" stop-color="#292929"/>
<stop offset="1.000" stop-color="#262626"/>
</linearGradient>
<path d="M1240 1169 L925 1170 Q906 1173 903 1177.5 Q906 1182 925 1185 L1240 1186 Z" fill="url(#gD3)"/>
</g>
<g filter="url(#bDbar)">
<rect x="1021" y="1135" width="16" height="28" fill="#828282"/>
<rect x="1035" y="1133" width="14" height="32" fill="#828282"/>
<rect x="1047" y="1132" width="130" height="34" fill="#828282"/>
<rect x="1024" y="1141" width="12" height="16" fill="#888888"/>
<rect x="1035.5" y="1139" width="11" height="20" fill="#949494"/>
<rect x="1046.5" y="1138" width="130" height="22" fill="#9e9e9e"/>
<rect x="1046.5" y="1143" width="130" height="12" fill="#a4a4a4"/>
</g>
</g>
</g></g>
<path d="M873.1 942.3 H1160" stroke="#b4bbbd" stroke-width="3" fill="none"/><path d="M873.9 941 V1235.5" stroke="#bcc3c5" stroke-width="1.5" fill="none"/><path d="M1158.8 941 V1235.5" stroke="#a3abae" stroke-width="2.4" fill="none"/><path d="M873.1 1234.5 H1160" stroke="#e0e6e8" stroke-width="2" fill="none"/>
<rect x="872.2" y="939.9" width="288.8" height="296.6" fill="none" stroke="#3c3c3c" stroke-width="1.9"/>
<g stroke="#222" stroke-width="1.2">
<line x1="871.5" y1="938.5" x2="871.5" y2="934"/><line x1="940.5" y1="938.5" x2="940.5" y2="934"/><line x1="1009.6" y1="938.5" x2="1009.6" y2="934"/><line x1="1078.5" y1="938.5" x2="1078.5" y2="934"/><line x1="1147.5" y1="938.5" x2="1147.5" y2="934"/>
<line x1="871.5" y1="1237" x2="871.5" y2="1241.5"/><line x1="940.5" y1="1237" x2="940.5" y2="1241.5"/><line x1="1009.6" y1="1237" x2="1009.6" y2="1241.5"/><line x1="1078.5" y1="1237" x2="1078.5" y2="1241.5"/><line x1="1147.5" y1="1237" x2="1147.5" y2="1241.5"/>
<line x1="871" y1="976.8" x2="867" y2="976.8"/><line x1="871" y1="1032" x2="867" y2="1032"/><line x1="871" y1="1087.3" x2="867" y2="1087.3"/><line x1="871" y1="1142.7" x2="867" y2="1142.7"/><line x1="871" y1="1198.2" x2="867" y2="1198.2"/>
<line x1="1162.5" y1="976.8" x2="1166" y2="976.8"/><line x1="1162.5" y1="1032" x2="1166" y2="1032"/><line x1="1162.5" y1="1087.3" x2="1166" y2="1087.3"/><line x1="1162.5" y1="1142.7" x2="1166" y2="1142.7"/><line x1="1162.5" y1="1198.2" x2="1166" y2="1198.2"/>
</g>
<g class="tk" text-anchor="end">
<text x="858" y="986.5">30</text>
<text x="858" y="1097">0</text>
<text x="858" y="1208">-30</text>
</g>
<g class="tk" text-anchor="middle">
<text x="875" y="1271.5">0</text>
<text x="1009" y="1271.5">50</text>
<text x="1145" y="1271.5">100</text>
<text x="1009" y="1306.5">Number of pairings (#)</text>
</g>
<g transform="translate(816.5,1088) rotate(-90)" fill="#111">
<text x="-81.5" y="0" font-size="28">Δt</text>
<text x="-56" y="5" font-size="27">STDP</text>
<text x="24" y="0" font-size="28">(ms)</text>
</g>
</g>
</svg>
</body>
</html>
